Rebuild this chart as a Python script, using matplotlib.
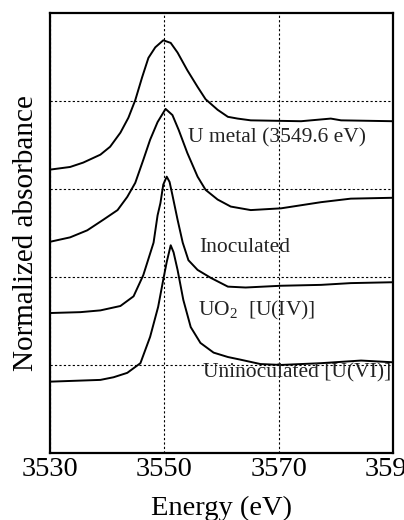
import matplotlib
matplotlib.use('Agg')
import matplotlib.pyplot as plt

plt.rcParams['font.family'] = ['Liberation Serif', 'DejaVu Serif']
plt.rcParams['mathtext.fontset'] = 'custom'
plt.rcParams['mathtext.rm'] = 'Liberation Serif'

# U metal (top curve)
metal_e = [3530.0, 3533.5, 3535.8, 3538.8, 3540.5, 3542.3, 3543.7, 3544.9, 3546.1,
           3547.2, 3548.4, 3549.8, 3551.1, 3552.3, 3554.0, 3555.8, 3557.2, 3559.3,
           3561.1, 3562.8, 3565.1, 3573.9, 3579.1, 3580.9, 3590.0]
metal_y = [3.22, 3.25, 3.30, 3.39, 3.48, 3.64, 3.81, 4.01, 4.27,
           4.49, 4.61, 4.69, 4.66, 4.55, 4.35, 4.16, 4.02, 3.90,
           3.82, 3.80, 3.78, 3.77, 3.80, 3.78, 3.77]

# Inoculated sample
inoc_e = [3530.0, 3533.5, 3536.5, 3539.3, 3541.8, 3543.5, 3544.9, 3546.3, 3547.5,
          3548.8, 3550.2, 3551.4, 3552.5, 3554.0, 3555.8, 3557.2, 3559.3, 3561.6,
          3565.1, 3570.4, 3577.4, 3582.6, 3590.0]
inoc_y = [2.40, 2.45, 2.53, 2.65, 2.76, 2.91, 3.07, 3.33, 3.56,
          3.76, 3.91, 3.84, 3.67, 3.41, 3.14, 2.99, 2.88, 2.80,
          2.76, 2.78, 2.85, 2.89, 2.90]

# UO2 [U(IV)]
uo2_e = [3530.0, 3535.3, 3538.8, 3542.3, 3544.6, 3546.3, 3548.1, 3548.8, 3549.3,
         3549.8, 3550.4, 3550.9, 3551.4, 3552.3, 3553.2, 3554.2, 3555.8, 3558.1,
         3561.1, 3564.2, 3570.4, 3577.4, 3582.6, 3590.0]
uo2_y = [1.59, 1.60, 1.62, 1.67, 1.78, 2.02, 2.39, 2.70, 2.84,
         3.05, 3.14, 3.08, 2.93, 2.65, 2.39, 2.19, 2.08, 1.99,
         1.89, 1.88, 1.90, 1.91, 1.93, 1.94]

# Uninoculated [U(VI)]
uninoc_e = [3530.0, 3538.8, 3541.1, 3543.5, 3545.8, 3547.5, 3548.9, 3549.8, 3550.4,
            3551.1, 3551.6, 3552.3, 3553.3, 3554.6, 3556.3, 3558.6, 3561.1, 3563.3,
            3566.8, 3570.4, 3577.4, 3584.4, 3590.0]
uninoc_y = [0.81, 0.83, 0.86, 0.91, 1.02, 1.32, 1.66, 1.97, 2.17,
            2.36, 2.28, 2.08, 1.74, 1.43, 1.25, 1.14, 1.09, 1.06,
            1.01, 1.00, 1.02, 1.05, 1.03]

labels = ['U metal (3549.6 eV)', 'Inoculated', 'UO$_\\mathregular{2}$  [U(IV)]',
          'Uninoculated [U(VI)]']
label_pos = [(3554.2, 3.58), (3556.0, 2.34), (3555.8, 1.62), (3556.8, 0.91)]

fig = plt.figure(figsize=(4.04, 5.20), dpi=100)
ax = fig.add_axes([0.124, 0.129, 0.849, 0.846])

for e, y in [(metal_e, metal_y), (inoc_e, inoc_y), (uo2_e, uo2_y), (uninoc_e, uninoc_y)]:
    ax.plot(e, y, color='black', lw=1.4, solid_joinstyle='round')

for txt, (x, y) in zip(labels, label_pos):
    ax.text(x, y, txt, fontsize=15.5, color='#222222', va='center', ha='left')

ax.set_xlim(3530, 3590)
ax.set_ylim(0, 5)
ax.set_xticks([3530, 3550, 3570, 3590])
ax.set_yticks([1, 2, 3, 4])
ax.set_yticklabels([])
ax.tick_params(length=0, labelsize=20.5, pad=3)
ax.grid(True, color='black', linestyle=(0, (2, 2)), lw=0.8)
for s in ax.spines.values():
    s.set_linewidth(1.6)

ax.set_xlabel('Energy (eV)', fontsize=20.5, labelpad=10)
ax.set_ylabel('Normalized absorbance', fontsize=21, labelpad=5)

fig.savefig('out.png', dpi=100)
